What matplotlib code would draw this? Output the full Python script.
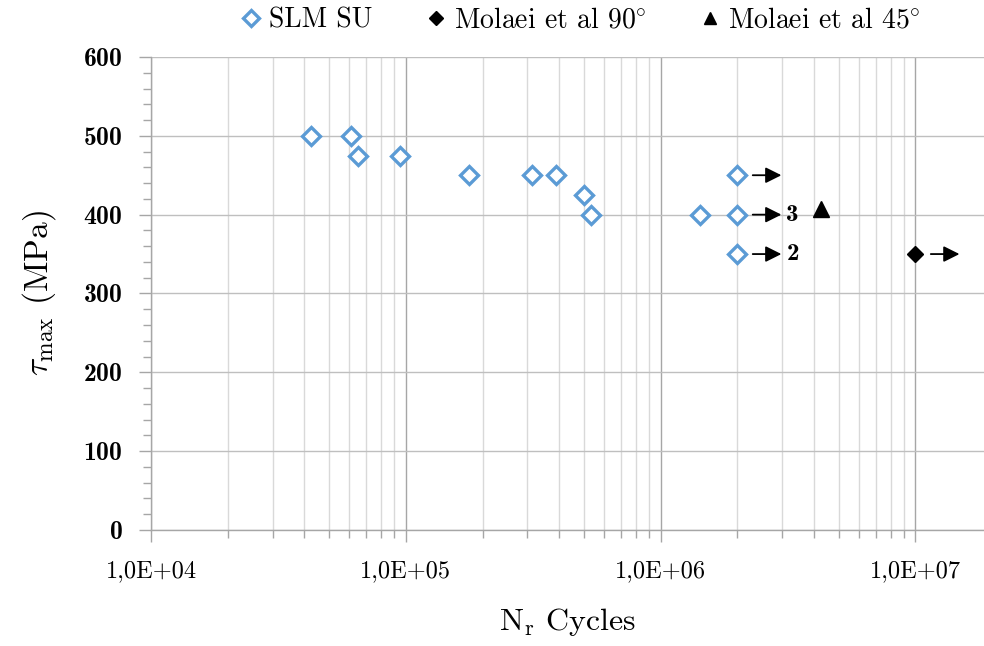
import numpy as np
import matplotlib.pyplot as plt
from matplotlib.ticker import FixedLocator, FuncFormatter, MultipleLocator

plt.rcParams['mathtext.fontset'] = 'cm'
plt.rcParams['font.family'] = ['cmr10', 'DejaVu Serif']
plt.rcParams['axes.formatter.use_mathtext'] = True

# SLM SU shear fatigue results
slm_cycles = [4.24e4, 6.1e4, 6.52e4, 9.45e4, 1.77e5, 3.14e5, 3.87e5, 5.01e5, 5.34e5, 1.43e6]
slm_stress = [500, 500, 475, 475, 450, 450, 450, 425, 400, 400]

# run-outs at 2E+06 and how many specimens each point stands for
runout_cycles = [2.0e6, 2.0e6, 2.0e6]
runout_stress = [450, 400, 350]
runout_count = ['', '3', '2']

# literature values
molaei90_cycles = [1.0e7]
molaei90_stress = [350]
molaei45_cycles = [4.26e6]
molaei45_stress = [407]

blue = '#5B9BD5'
bold = ['cmb10', 'DejaVu Serif']

fig = plt.figure(figsize=(9.84, 6.46), dpi=100)
ax = fig.add_axes([0.1535, 0.1796, 0.8465, 0.7322])

ax.plot(slm_cycles + runout_cycles, slm_stress + runout_stress, 'D', ls='none',
        ms=9.2, mfc='white', mec=blue, mew=2.4, label='SLM SU', zorder=5)
ax.plot(molaei90_cycles, molaei90_stress, 'D', ls='none', ms=8, color='black',
        label=r'Molaei et al 90$\!^\circ$', zorder=5)
ax.plot(molaei45_cycles, molaei45_stress, '^', ls='none', ms=11, color='black',
        label=r'Molaei et al 45$\!^\circ$', zorder=5)

# run-out arrows
for x, y, n in zip(runout_cycles + molaei90_cycles,
                   runout_stress + molaei90_stress,
                   runout_count + ['']):
    ax.annotate('', xy=(x * 1.49, y), xytext=(x * 1.15, y),
                arrowprops=dict(arrowstyle='-|>', color='black', lw=1.3,
                                mutation_scale=24, shrinkA=0, shrinkB=0),
                zorder=6)
    if n:
        ax.text(x * 1.56, y, n, fontsize=18, family=bold,
                va='center', ha='left')

ax.set_xscale('log')
ax.set_xlim(1e4, 1.86e7)
ax.set_ylim(0, 600)

ax.xaxis.set_major_locator(FixedLocator([1e4, 1e5, 1e6, 1e7]))
ax.xaxis.set_minor_locator(FixedLocator([m * 10.0 ** e for e in range(4, 7) for m in range(2, 10)]))
ax.xaxis.set_major_formatter(FuncFormatter(lambda v, p: '1,0E+%02d' % round(np.log10(v))))
ax.yaxis.set_major_locator(MultipleLocator(100))
ax.yaxis.set_minor_locator(MultipleLocator(20))

ax.grid(which='major', axis='x', color='#A6A6A6', lw=1.0)
ax.grid(which='minor', axis='x', color='#D9D9D9', lw=1.0)
ax.grid(which='major', axis='y', color='#BFBFBF', lw=1.0)
ax.set_axisbelow(True)

for s in ['top', 'right']:
    ax.spines[s].set_visible(False)
for s in ['left', 'bottom']:
    ax.spines[s].set_color('#A6A6A6')
    ax.spines[s].set_linewidth(1.0)

ax.tick_params(axis='both', which='both', direction='out', color='#A6A6A6', width=1.0)
ax.tick_params(axis='both', which='major', length=8.5)
ax.tick_params(axis='both', which='minor', length=6)
ax.tick_params(axis='x', which='major', labelsize=17.5, pad=13)
ax.tick_params(axis='y', which='major', labelsize=18.5, pad=12)
for lab in ax.get_yticklabels():
    lab.set_family(bold)

ax.set_xlabel(r'N$_\mathrm{r}$ Cycles', fontsize=23, labelpad=17)
ax.set_ylabel(r'$\tau_\mathrm{max}$ (MPa)', fontsize=24, labelpad=18)

fig.legend(loc='center', bbox_to_anchor=(0.588, 0.968), ncol=3, frameon=False,
           fontsize=20, handlelength=1.0, handletextpad=0.15, columnspacing=1.8,
           markerscale=0.85)

fig.savefig('out.png', dpi=100)
